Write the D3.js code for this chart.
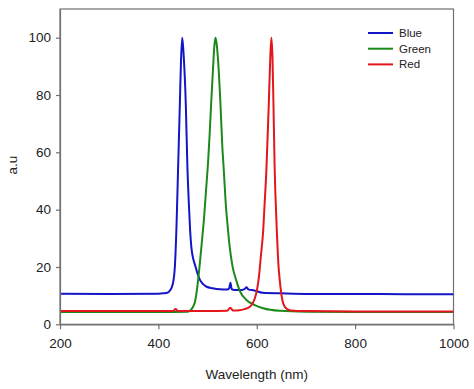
<!DOCTYPE html>
<html>
<head>
<meta charset="utf-8">
<script src="https://cdn.jsdelivr.net/npm/d3@7"></script>
<style>
  html, body { margin: 0; padding: 0; background: #fff; }
  text { font-family: "Liberation Sans", Arial, sans-serif; }
</style>
</head>
<body>
<div id="chart"></div>
<script>
// wavelengths (nm) and intensities (a.u.)
const blueWl = [200, 300, 400, 410, 418, 423, 427, 430, 433.5, 437, 440, 443.6, 446, 448.5, 451, 455.8, 459, 462, 464.5, 467, 470, 474, 479, 484, 491, 498, 510, 525, 540, 544, 546.5, 549, 555, 570, 576, 579, 583, 595, 612, 650, 708, 800, 900, 1000];
const blueVal = [10.7, 10.6, 10.7, 10.8, 11.0, 11.7, 12.8, 14.6, 20, 35, 53.8, 76.5, 92, 100, 95, 76.5, 55, 42, 33, 27, 23.5, 21, 18, 15.7, 14, 13.1, 12.6, 12.2, 12.1, 12.6, 14.5, 12.3, 12.0, 12.0, 12.4, 12.9, 12.2, 11.8, 11.0, 10.8, 10.6, 10.6, 10.5, 10.5];

const greenWl = [200, 300, 400, 460, 467, 471, 474, 478, 483, 488, 493, 497, 501, 504, 507, 511, 514, 516, 518, 521, 526.3, 530, 533, 537, 541, 545, 551, 558, 566, 579, 595, 613, 647, 700, 800, 900, 1000];
const greenVal = [4.3, 4.3, 4.3, 4.4, 5.2, 6.3, 7.6, 11.5, 19, 28, 37.5, 47, 56.5, 65.5, 76, 89, 97.5, 100, 98.5, 93, 76.5, 62, 53.8, 42, 34, 27, 20, 15.5, 11.5, 8.5, 6.8, 5.6, 4.7, 4.4, 4.3, 4.3, 4.3];

const redWl = [200, 300, 430, 435, 440, 500, 540, 546, 552, 565, 575, 586, 591, 596, 600.5, 604.7, 608.5, 612.8, 616, 619.6, 624.4, 627.5, 629.8, 632, 634, 636.5, 638, 641.3, 644, 646.7, 652, 657, 663, 670, 700, 800, 900, 1000];
const redVal = [4.6, 4.6, 4.6, 5.3, 4.6, 4.6, 4.7, 5.8, 4.8, 4.9, 5.3, 6.1, 7.2, 9, 12, 17, 24, 32, 42, 53.8, 76.5, 93, 100, 93, 76.5, 53.8, 45, 30.6, 21, 15.5, 8.5, 6.1, 5.2, 4.8, 4.6, 4.5, 4.5, 4.5];

const seriesNames = ["Blue", "Green", "Red"];
const seriesColors = ["#1414c8", "#1b8a1b", "#e3161b"];
const xTicks = [200, 400, 600, 800, 1000];
const yTicks = [0, 20, 40, 60, 80, 100];

const series = [
  { name: seriesNames[0], color: seriesColors[0], pts: blueWl.map((w, i) => [w, blueVal[i]]) },
  { name: seriesNames[1], color: seriesColors[1], pts: greenWl.map((w, i) => [w, greenVal[i]]) },
  { name: seriesNames[2], color: seriesColors[2], pts: redWl.map((w, i) => [w, redVal[i]]) }
];

const width = 474, height = 389;
const margin = { top: 9, right: 20.5, bottom: 64.7, left: 60 };
const innerW = width - margin.left - margin.right;
const innerH = height - margin.top - margin.bottom;

const svg = d3.select("#chart").append("svg")
  .attr("width", width)
  .attr("height", height);

const g = svg.append("g")
  .attr("transform", `translate(${margin.left},${margin.top})`);

const x = d3.scaleLinear().domain([200, 1000]).range([0, innerW]);
const y = d3.scaleLinear().domain([0, 110]).range([innerH, 0]);

g.append("clipPath").attr("id", "clip")
  .append("rect").attr("width", innerW).attr("height", innerH);

// frame
g.append("rect")
  .attr("width", innerW)
  .attr("height", innerH)
  .attr("fill", "none")
  .attr("stroke", "#707070")
  .attr("stroke-width", 1.2);

const line = d3.line()
  .x(d => x(d[0]))
  .y(d => y(d[1]))
  .curve(d3.curveMonotoneX);

g.append("g").attr("clip-path", "url(#clip)")
  .selectAll("path")
  .data(series)
  .enter().append("path")
  .attr("d", d => line(d.pts))
  .attr("fill", "none")
  .attr("stroke", d => d.color)
  .attr("stroke-width", 2)
  .attr("stroke-linejoin", "round");

// axes
const xAxis = g.append("g")
  .attr("transform", `translate(0,${innerH})`)
  .call(d3.axisBottom(x).tickValues(xTicks).tickFormat(d3.format("d"))
    .tickSize(5).tickSizeOuter(0).tickPadding(9));

const yAxis = g.append("g")
  .call(d3.axisLeft(y).tickValues(yTicks).tickFormat(d3.format("d"))
    .tickSize(4).tickSizeOuter(0).tickPadding(5));

[xAxis, yAxis].forEach(a => {
  a.select(".domain").attr("stroke", "#707070").attr("stroke-width", 1.2);
  a.selectAll(".tick line").attr("stroke", "#707070").attr("stroke-width", 1.2);
  a.selectAll(".tick text")
    .attr("fill", "#222")
    .style("font-size", "13.5px")
    .style("font-family", "'Liberation Sans', Arial, sans-serif");
});

// axis titles
svg.append("text")
  .attr("x", margin.left + x(600))
  .attr("y", 379)
  .attr("text-anchor", "middle")
  .attr("fill", "#222")
  .style("font-size", "13.5px")
  .text("Wavelength (nm)");

svg.append("text")
  .attr("transform", `translate(17,165) rotate(-90)`)
  .attr("text-anchor", "middle")
  .attr("fill", "#222")
  .style("font-size", "13.5px")
  .text("a.u");

// legend
const legend = svg.append("g").attr("transform", "translate(368,33)");
const item = legend.selectAll("g")
  .data(series)
  .enter().append("g")
  .attr("transform", (d, i) => `translate(0,${i * 15.7})`);

item.append("line")
  .attr("x1", 0).attr("x2", 25)
  .attr("stroke", d => d.color)
  .attr("stroke-width", 2);

item.append("text")
  .attr("x", 31)
  .attr("dy", "0.35em")
  .attr("fill", "#222")
  .style("font-size", "11.5px")
  .text(d => d.name);
</script>
</body>
</html>
